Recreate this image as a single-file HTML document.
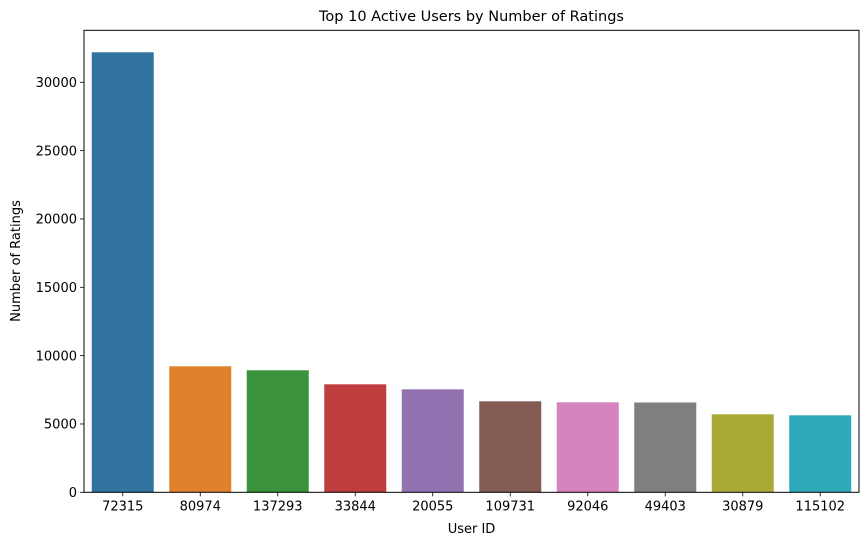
<!DOCTYPE html>
<html><head><meta charset="utf-8"><style>
body{margin:0;background:#fff}
svg text{font-family:"DejaVu Sans","Liberation Sans",sans-serif;fill:#000}
</style></head><body>
<svg id="chart" width="868" height="545">
<text x="471.5" y="21" font-size="14.5" text-anchor="middle">Top 10 Active Users by Number of Ratings</text>
<g id="bars"></g>
<g id="axes"></g>
<text x="471.5" y="533" font-size="13" text-anchor="middle">User ID</text>
<text transform="translate(20,261) rotate(-90)" font-size="13" text-anchor="middle">Number of Ratings</text>
</svg>
<script>
const categories=["72315","80974","137293","33844","20055","109731","92046","49403","30879","115102"];
const values=[32195,9220,8927,7902,7536,6658,6585,6570,5707,5634];
const yTicks=[0,5000,10000,15000,20000,25000,30000];
const colors=["#3274a1","#e1812c","#3a923a","#c03d3e","#9372b2","#845b53","#d684bd","#7f7f7f","#a9aa35","#2ea9b9"];
const L=84,R=859,T=30.3,B=492.3,NS="http://www.w3.org/2000/svg";
const y=v=>B-v*(410/30000);
const band=(R-L)/categories.length;
const xc=i=>L+band*(i+0.5);
const bars=document.getElementById('bars'),axes=document.getElementById('axes');
function mk(t,a,p){const e=document.createElementNS(NS,t);for(const k in a)e.setAttribute(k,a[k]);p.appendChild(e);return e;}
values.forEach((v,i)=>{
const r=mk('rect',{x:xc(i)-band*0.4,y:y(v),width:band*0.8,height:B-y(v),fill:colors[i]},bars);


mk('line',{x1:xc(i),x2:xc(i),y1:B,y2:B+4,stroke:'#000','stroke-width':0.8},axes);
const tx=mk('text',{x:xc(i),y:B+18,'font-size':13,'text-anchor':'middle'},axes);
tx.textContent=categories[i];


});
yTicks.forEach(v=>{
mk('line',{x1:L-4,x2:L,y1:y(v),y2:y(v),stroke:'#000','stroke-width':0.8},axes);
const tx=mk('text',{x:L-7,y:y(v)+4.7,'font-size':13,'text-anchor':'end'},axes);
tx.textContent=v;


});
const fr=mk('rect',{x:L,y:T,width:R-L,height:B-T,fill:'none',stroke:'#000','stroke-width':1},axes);


</script>
</body></html>
